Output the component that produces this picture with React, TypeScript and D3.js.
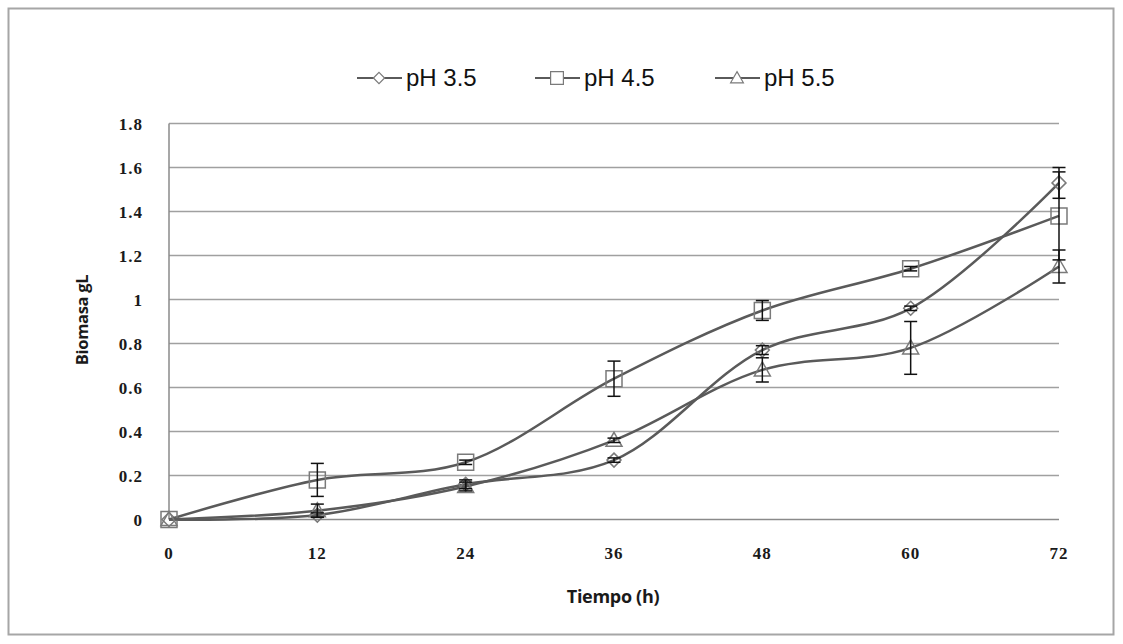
import * as d3 from "d3";
import { useEffect, useRef } from "react";

// time points (h)
const hours = [0, 12, 24, 36, 48, 60, 72];

const ph35 = [0, 0.02, 0.16, 0.27, 0.77, 0.96, 1.53];
const ph35Err = [0, 0.01, 0.02, 0.01, 0.02, 0.01, 0.07];

const ph45 = [0, 0.18, 0.26, 0.64, 0.95, 1.14, 1.38];
const ph45Err = [0, 0.075, 0.01, 0.08, 0.045, 0.01, 0.2];

const ph55 = [0, 0.04, 0.15, 0.36, 0.68, 0.78, 1.15];
const ph55Err = [0, 0.03, 0.02, 0.01, 0.055, 0.12, 0.075];

const seriesNames = ["pH 3.5", "pH 4.5", "pH 5.5"];
const markerKinds = ["diamond", "square", "triangle"];
const yTicks = [0, 0.2, 0.4, 0.6, 0.8, 1, 1.2, 1.4, 1.6, 1.8];

const W = 1123;
const H = 644;

function markerPath(kind: string, cx: number, cy: number, k = 1) {
   if (kind === "square") {
      const s = 8 * k;
      return `M${cx - s},${cy - s}h${2 * s}v${2 * s}h${-2 * s}Z`;
   }
   if (kind === "diamond") {
      const s = 7 * k;
      return `M${cx},${cy - s}L${cx + s},${cy}L${cx},${cy + s}L${cx - s},${cy}Z`;
   }
   const s = 8 * k;
   return `M${cx},${cy - s}L${cx + s},${cy + s * 0.75}L${cx - s},${cy + s * 0.75}Z`;
}

function App() {
   const ref = useRef<SVGSVGElement>(null);

   useEffect(() => {
      const svg = d3.select(ref.current);
      svg.selectAll("*").remove();

      const x = d3.scaleLinear().domain([0, 72]).range([169, 1059]);
      const y = d3.scaleLinear().domain([0, 1.8]).range([519.5, 123.5]);

      // outer frame
      svg.append("rect")
         .attr("x", 8.5)
         .attr("y", 8.5)
         .attr("width", 1105)
         .attr("height", 626)
         .attr("fill", "white")
         .attr("stroke", "#a6a6a6")
         .attr("stroke-width", 2);

      // gridlines
      svg.append("g")
         .selectAll("line")
         .data(yTicks.slice(1))
         .enter()
         .append("line")
         .attr("x1", x(0))
         .attr("x2", x(72))
         .attr("y1", (d) => y(d))
         .attr("y2", (d) => y(d))
         .attr("stroke", "#a0a0a0")
         .attr("stroke-width", 1.5);

      // axes lines
      svg.append("line")
         .attr("x1", x(0))
         .attr("x2", x(0))
         .attr("y1", y(0))
         .attr("y2", y(1.8))
         .attr("stroke", "#8a8a8a")
         .attr("stroke-width", 1.5);
      svg.append("line")
         .attr("x1", x(0))
         .attr("x2", x(72))
         .attr("y1", y(0))
         .attr("y2", y(0))
         .attr("stroke", "#8a8a8a")
         .attr("stroke-width", 1.5);

      // tick labels
      svg.append("g")
         .selectAll("text")
         .data(yTicks)
         .enter()
         .append("text")
         .attr("x", 143)
         .attr("y", (d) => y(d) + 6)
         .attr("text-anchor", "end")
         .attr("font-family", "'Liberation Serif', serif")
         .attr("font-weight", "bold")
         .attr("font-size", 17)
         .attr("letter-spacing", 1)
         .attr("fill", "#1a1a1a")
         .text((d) => String(d));

      svg.append("g")
         .selectAll("text")
         .data(hours)
         .enter()
         .append("text")
         .attr("x", (d) => x(d))
         .attr("y", 559)
         .attr("text-anchor", "middle")
         .attr("font-family", "'Liberation Serif', serif")
         .attr("font-weight", "bold")
         .attr("font-size", 17)
         .attr("letter-spacing", 1)
         .attr("fill", "#1a1a1a")
         .text((d) => String(d));

      // axis titles
      svg.append("text")
         .attr("transform", "translate(88,320) rotate(-90)")
         .attr("text-anchor", "middle")
         .attr("font-family", "'Open Sans', sans-serif")
         .attr("font-weight", "bold")
         .attr("font-size", 16.5)
         .attr("letter-spacing", -0.3)
         .attr("fill", "#1a1a1a")
         .text("Biomasa gL");
      svg.append("text")
         .attr("x", 613)
         .attr("y", 603)
         .attr("text-anchor", "middle")
         .attr("font-family", "'Open Sans', sans-serif")
         .attr("font-weight", "bold")
         .attr("font-size", 18)
         .attr("letter-spacing", -0.3)
         .attr("fill", "#1a1a1a")
         .text("Tiempo (h)");

      const all = [
         { vals: ph35, errs: ph35Err },
         { vals: ph45, errs: ph45Err },
         { vals: ph55, errs: ph55Err },
      ];

      const line = d3
         .line<number>()
         .x((d, i) => x(hours[i]))
         .y((d) => y(d))
         .curve(d3.curveCatmullRom.alpha(0.5));

      all.forEach((s, si) => {
         svg.append("path")
            .attr("d", line(s.vals))
            .attr("fill", "none")
            .attr("stroke", "#5a5a5a")
            .attr("stroke-width", 2.5);

         svg.append("g")
            .selectAll("path")
            .data(s.vals)
            .enter()
            .append("path")
            .attr("d", (d, i) => markerPath(markerKinds[si], x(hours[i]), y(d)))
            .attr("fill", "none")
            .attr("stroke", "#7a7a7a")
            .attr("stroke-width", 1.5);
      });

      // error bars
      all.forEach((s) => {
         const g = svg.append("g").attr("stroke", "#111").attr("stroke-width", 1.5);
         s.vals.forEach((v, i) => {
            const e = s.errs[i];
            if (e <= 0) return;
            const cx = x(hours[i]);
            g.append("line").attr("x1", cx).attr("x2", cx).attr("y1", y(v - e)).attr("y2", y(v + e));
            [v - e, v + e].forEach((t) => {
               g.append("line")
                  .attr("x1", cx - 6.5)
                  .attr("x2", cx + 6.5)
                  .attr("y1", y(t))
                  .attr("y2", y(t));
            });
         });
      });

      // legend
      const legX = [357, 535, 715];
      const lg = svg.append("g");
      seriesNames.forEach((name, i) => {
         const lx = legX[i];
         lg.append("line")
            .attr("x1", lx)
            .attr("x2", lx + 45)
            .attr("y1", 78)
            .attr("y2", 78)
            .attr("stroke", "#5a5a5a")
            .attr("stroke-width", 2);
         lg.append("path")
            .attr("d", markerPath(markerKinds[i], lx + 22, 78, 0.8))
            .attr("fill", "white")
            .attr("stroke", "#7a7a7a")
            .attr("stroke-width", 1.2);
         lg.append("text")
            .attr("x", lx + 49)
            .attr("y", 86)
            .attr("font-family", "'Liberation Sans', Arial, sans-serif")
            .attr("font-size", 24)
            .attr("fill", "#111")
            .text(name);
      });
   }, []);

   return (
      <div style={{ position: "absolute", left: 0, top: 0 }}>
         <svg ref={ref} width={W} height={H} style={{ display: "block" }}></svg>
      </div>
   );
}

export default App;
